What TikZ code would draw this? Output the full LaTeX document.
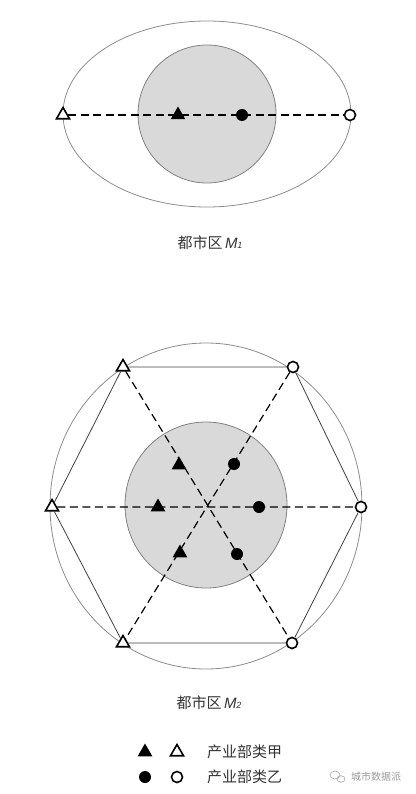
\documentclass[tikz,border=0pt]{standalone}
\usepackage{fontspec}
\setmainfont{Liberation Sans}
\newfontfamily\cjk{Noto Sans CJK SC}
\usetikzlibrary{shapes.geometric}

\begin{document}
\begin{tikzpicture}[x=1pt,y=-1pt]
\tikzstyle{filltri}=[regular polygon, regular polygon sides=3, minimum size=17pt, inner sep=0pt, fill=black]
\tikzstyle{opentri}=[regular polygon, regular polygon sides=3, minimum size=15pt, inner sep=0pt, draw, line width=1.6pt, fill=white]
\tikzstyle{filldot}=[circle, fill=black, minimum size=12pt, inner sep=0pt]
\tikzstyle{opendot}=[circle, draw, line width=1.6pt, fill=white, minimum size=11pt, inner sep=0pt]
\tikzstyle{link}=[line width=1.2pt, dash pattern=on 8pt off 4.5pt]
\tikzstyle{side}=[draw=black!75, line width=0.8pt]
\tikzstyle{ring}=[draw=black!45, line width=0.8pt]
\tikzstyle{core}=[draw=black!50, fill=black!15, line width=0.8pt]
\tikzstyle{caption}=[font=\fontsize{15}{15}\selectfont, text=black!80, inner sep=0pt]
\useasboundingbox (0,0) rectangle (415,794);

% upper district
\draw[ring] (207,114) ellipse [x radius=144, y radius=93];
\draw[core] (207,114) circle [radius=69];
\node[opentri] (A1) at (63,115) {};
\node[filltri] (B1) at (178,115) {};
\node[filldot] (C1) at (242,115) {};
\node[opendot] (D1) at (350,115) {};
\draw[link] (A1) -- (D1);
\node[caption] (M1) at (210,243) {{\cjk 都市区}\,\textit{M{\fontsize{9}{9}\selectfont 1}}};

% lower district
\draw[ring] (206,506) ellipse [x radius=156, y radius=163];
\draw[core] (206,505) ellipse [x radius=81, y radius=83];
\node[opentri] (P1) at (123,367) {};
\node[opentri] (P2) at (52,507) {};
\node[opentri] (P3) at (123,643) {};
\node[opendot] (Q1) at (293,367) {};
\node[opendot] (Q2) at (361,507) {};
\node[opendot] (Q3) at (292,643) {};
\node[filltri] (B2) at (179,465) {};
\node[filltri] (B3) at (158,507) {};
\node[filltri] (B4) at (180,553) {};
\node[filldot] (C2) at (234,464) {};
\node[filldot] (C3) at (259,507) {};
\node[filldot] (C4) at (237,554) {};
\draw[side] (P1) -- (Q1) -- (Q2) -- (Q3) -- (P3) -- (P2) -- (P1);
\draw[link] (P1) -- (Q3) (Q1) -- (P3) (P2) -- (Q2);
\node[caption] (M2) at (209,703) {{\cjk 都市区}\,\textit{M{\fontsize{9}{9}\selectfont 2}}};

% legend
\node[filltri] (L1) at (145,752) {};
\node[opentri] (L2) at (177,752) {};
\node[filldot] (L3) at (145,777) {};
\node[opendot] (L4) at (177,777) {};
\node[caption, anchor=west] (T1) at (207,752) {\cjk 产业部类甲};
\node[caption, anchor=west] (T2) at (207,777) {\cjk 产业部类乙};

% watermark
\draw[black!35, line width=0.6pt] (335,775) ellipse [x radius=5, y radius=4] (341,779) ellipse [x radius=4, y radius=3.2];
\node[anchor=west, inner sep=0pt, text=black!40, font=\cjk\fontsize{10}{10}\selectfont] (W) at (351,777) {城市数据派};
\end{tikzpicture}
\end{document}
